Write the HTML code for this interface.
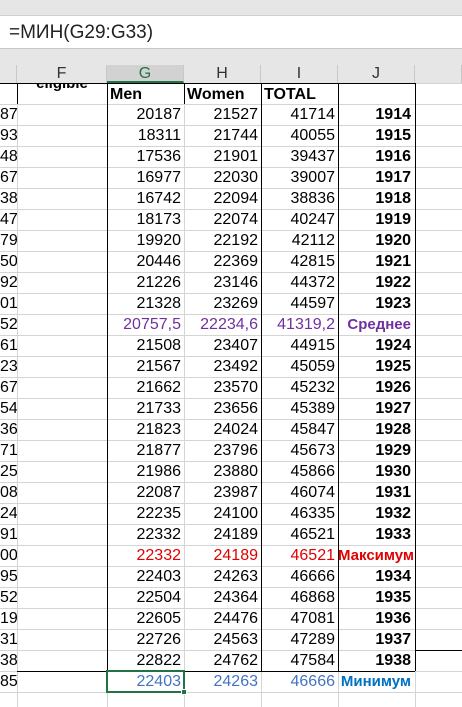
<!DOCTYPE html>
<html><head><meta charset="utf-8">
<style>
*{margin:0;padding:0;box-sizing:border-box}
body{width:462px;height:707px;overflow:hidden;background:#fff;font-family:"Liberation Sans",Arial,sans-serif;position:relative}
.abs{position:absolute}
.c{position:absolute;height:21px;line-height:22px;font-size:16px;white-space:nowrap;overflow:hidden}
.r{text-align:right;padding-right:3px}
.hdr{z-index:5}
</style></head><body>
<div class="abs" style="left:0;top:0;width:462px;height:15px;background:#e6e6e6"></div>
<div class="abs" style="left:0;top:15px;width:462px;height:34px;background:#fff;border-top:1px solid #d0d0d0;border-bottom:1px solid #c8c8c8;font-size:19px;line-height:33px;padding-left:9px;color:#222">=МИН(G29:G33)</div>
<div class="abs" style="left:0;top:49px;width:462px;height:16px;background:#e6e6e6;z-index:5"></div>
<div id="grid"></div>
<script>
const years=[1914,1915,1916,1917,1918,1919,1920,1921,1922,1923,"Среднее",1924,1925,1926,1927,1928,1929,1930,1931,1932,1933,"Максимум",1934,1935,1936,1937,1938,"Минимум"];
const men=["20187","18311","17536","16977","16742","18173","19920","20446","21226","21328","20757,5","21508","21567","21662","21733","21823","21877","21986","22087","22235","22332","22332","22403","22504","22605","22726","22822","22403"];
const women=["21527","21744","21901","22030","22094","22074","22192","22369","23146","23269","22234,6","23407","23492","23570","23656","24024","23796","23880","23987","24100","24189","24189","24263","24364","24476","24563","24762","24263"];
const total=["41714","40055","39437","39007","38836","40247","42112","42815","44372","44597","41319,2","44915","45059","45232","45389","45847","45673","45866","46074","46335","46521","46521","46666","46868","47081","47289","47584","46666"];
const leftPart=["87","93","48","67","38","47","79","50","92","01","52","61","23","67","54","36","71","25","08","24","91","00","95","52","19","31","38","85"];
const g=document.getElementById('grid');
function add(html){g.insertAdjacentHTML('beforeend',html);return g.lastElementChild;}
const cols=[[0,17,''],[17,107,'F'],[107,184,'G'],[184,261,'H'],[261,338,'I'],[338,415,'J'],[415,462,'']];
cols.forEach(c=>{
  const sel=c[2]==='G';
  const e=add(`<div class="abs hdr" style="left:${c[0]}px;top:65px;width:${c[1]-c[0]}px;height:18px;background:${sel?'#d2d2d2':'#e6e6e6'};border-right:1px solid #c8c8c8;${sel?'border-bottom:2px solid #217346;color:#217346;':'color:#333;'}font-size:16px;line-height:18px;text-align:center">${c[2]}</div>`);
  
  
});
for(let i=0;i<=29;i++){
  const e=add(`<div class="abs" style="left:0;top:${i===0?83:104+(i-1)*21}px;width:462px;height:1px;background:#d4d4d4"></div>`);
  
  
}
[17,107,184,261,338,415].forEach(x=>{
  const e=add(`<div class="abs" style="left:${x}px;top:83px;width:1px;height:624px;background:#d4d4d4"></div>`);
  
  
});
const bl=[[0,83,415,1],[17,671,398,1],[107,83,1,588],[184,83,1,21],[261,83,1,588],[338,83,1,588],[415,83,1,588],[415,650,47,1],[17,83,1,21]];
bl.forEach(b=>{
  const e=add(`<div class="abs" style="left:${b[0]}px;top:${b[1]}px;width:${b[2]}px;height:${b[3]}px;background:#000;z-index:2"></div>`);
  
  
});
let e=add(`<div class="c" style="left:17px;top:73px;width:90px;text-align:center;font-weight:bold;font-size:15px">eligible</div>`);


[['Men',107],['Women',184],['TOTAL',261]].forEach(h=>{
  const el=add(`<div class="c" style="left:${h[1]+3}px;top:84px;font-weight:bold;font-size:16px">${h[0]}</div>`);
  
  
});
years.forEach((y,i)=>{
  const top=104+i*21;
  let color='#000',lab='#000';
  if(y==='Среднее'){color='#7030a0';lab='#7030a0';}
  if(y==='Максимум'){color='#e00000';lab='#e00000';}
  if(y==='Минимум'){color='#4472c4';lab='#0070c0';}
  const a=add(`<div class="c r" style="left:0;top:${top}px;width:17px;padding-right:1px">${leftPart[i]}</div>`);
  
  
  [[men,107,'men-cell'],[women,184,'women-cell'],[total,261,'total-cell']].forEach(s=>{
    const el=add(`<div class="c r" style="left:${s[1]}px;top:${top}px;width:77px;color:${color}">${s[0][i]}</div>`);
    
    
  });
  const j=add(`<div class="c r" style="left:338px;top:${top}px;width:77px;font-weight:bold;color:${lab};padding-right:4px;font-size:${typeof y==='string'?15:16}px">${y}</div>`);
  
  
});
e=add(`<div class="abs" style="left:106px;top:670px;width:79px;height:23px;border:2px solid #217346;z-index:3"></div>`);


e=add(`<div class="abs" style="left:181px;top:689px;width:6px;height:6px;background:#217346;border:1px solid #fff;z-index:4"></div>`);


</script>
</body></html>
